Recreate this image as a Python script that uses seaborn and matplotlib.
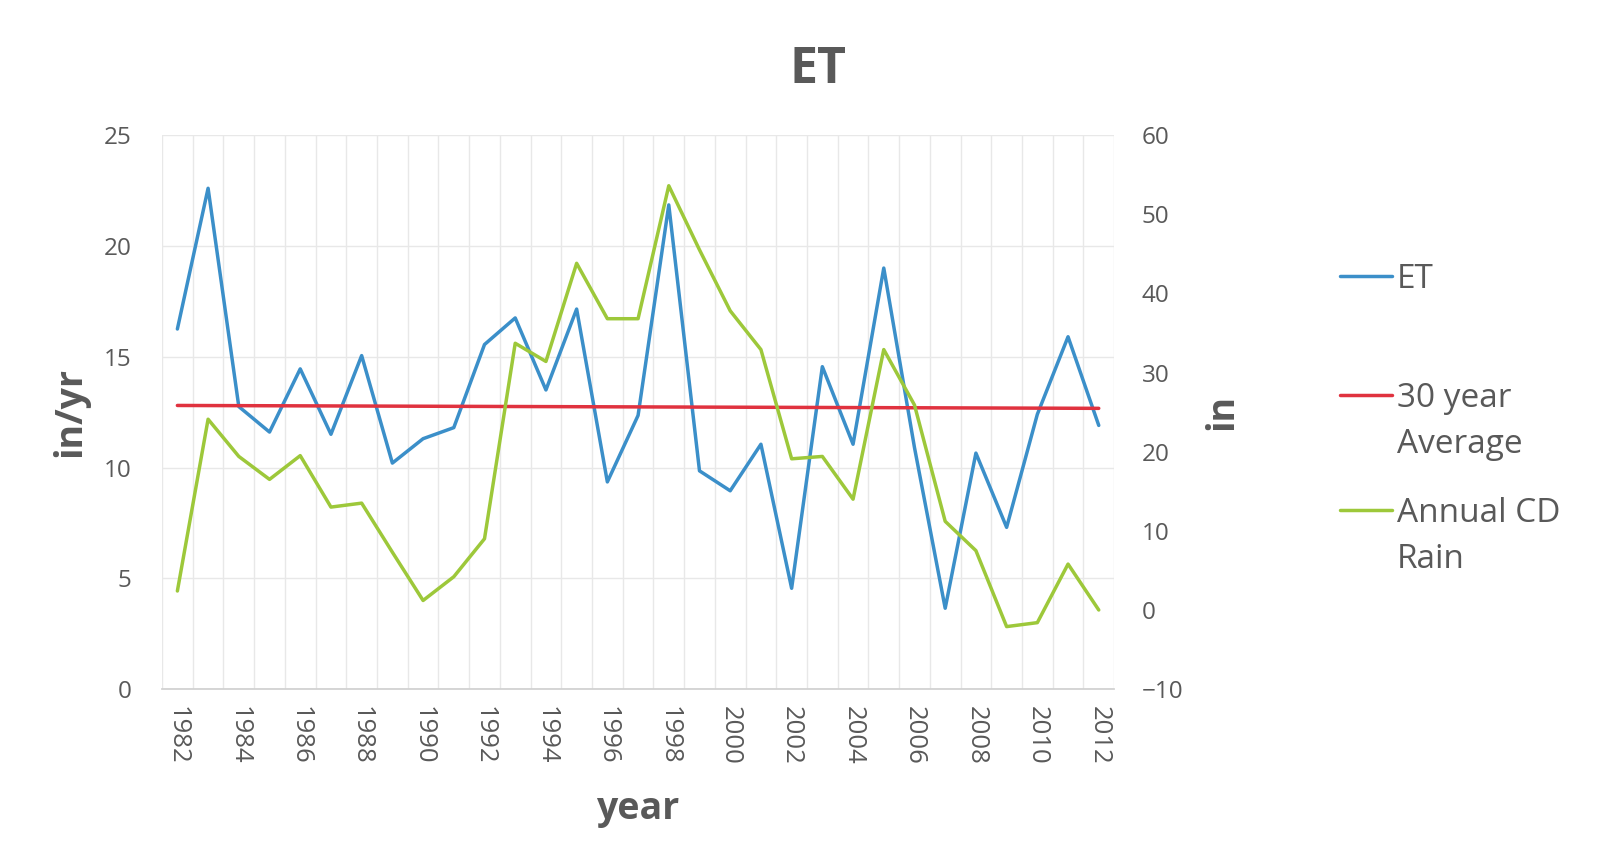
import matplotlib
matplotlib.use("Agg")
import matplotlib.pyplot as plt
import seaborn as sns
import numpy as np
import pandas as pd
from matplotlib.lines import Line2D

years = list(range(1982, 2013))
et = [16.25, 22.6, 12.75, 11.6, 14.45, 11.5, 15.05, 10.2, 11.3, 11.8,
      15.55, 16.75, 13.5, 17.15, 9.35, 12.35, 21.85, 9.85, 8.95, 11.05,
      4.55, 14.55, 11.05, 19.0, 10.9, 3.65, 10.65, 7.3, 12.4, 15.9, 11.9]
rain = [2.4, 24.1, 19.4, 16.5, 19.5, 13.0, 13.5, 7.3, 1.2, 4.2,
        9.0, 33.7, 31.4, 43.8, 36.8, 36.8, 53.6, 45.5, 37.8, 32.9,
        19.1, 19.4, 14.0, 32.9, 25.9, 11.2, 7.5, -2.1, -1.6, 5.8, 0.0]
avg_years = [1982, 2012]
avg_values = [12.80, 12.67]

left_ticks = [0, 5, 10, 15, 20, 25]
right_ticks = [-10, 0, 10, 20, 30, 40, 50, 60]
xtick_years = list(range(1982, 2013, 2))
legend_labels = [["ET"], ["30 year", "Average"], ["Annual CD", "Rain"]]

sns.set_theme(style="white")
plt.rcParams['font.family'] = ['Open Sans', 'DejaVu Sans']

c_et = "#3b8fc9"
c_avg = "#e0323f"
c_rain = "#9dc83a"
txt = "#595959"
lw = 2.5

fig = plt.figure(figsize=(16.17, 8.55), dpi=100)
ax = fig.add_axes([0.1002, 0.194, 0.5888, 0.648])
ax2 = ax.twinx()

df = pd.DataFrame({"year": years, "et": et, "rain": rain})
dfa = pd.DataFrame({"year": avg_years, "avg": avg_values})

sns.lineplot(data=df, x="year", y="et", ax=ax, color=c_et, linewidth=lw, zorder=3)
sns.lineplot(data=dfa, x="year", y="avg", ax=ax, color=c_avg, linewidth=lw, zorder=3)
sns.lineplot(data=df, x="year", y="rain", ax=ax2, color=c_rain, linewidth=lw, zorder=3)

ax.set_xlim(1981.5, 2012.5)
ax.set_ylim(0, 25)
ax2.set_ylim(-10, 60)
ax.set_yticks(left_ticks)
ax2.set_yticks(right_ticks)
ax.set_xticks(xtick_years)
ax.set_xticklabels([str(y) for y in xtick_years], rotation=270, fontsize=18.5, color=txt)
ax.set_xticks(np.arange(1981.5, 2013, 1.0), minor=True)
ax.tick_params(axis="x", which="both", length=0, pad=12)
ax.tick_params(axis="y", length=0, labelsize=17.5, labelcolor=txt, pad=22)
ax2.tick_params(axis="y", length=0, labelsize=17.5, labelcolor=txt, pad=20)

ax.grid(True, axis="y", which="major", color="#e8e8e8", linewidth=1)
ax.grid(True, axis="x", which="minor", color="#e8e8e8", linewidth=1)
ax.grid(False, axis="x", which="major")
ax2.grid(False)
for a in (ax, ax2):
    for s in a.spines.values():
        s.set_visible(False)
ax.spines["bottom"].set_visible(True)
ax.spines["bottom"].set_color("#d0d0d0")

ax.set_xlabel("year", fontsize=27, fontweight="bold", color=txt, labelpad=18)
ax.set_ylabel("in/yr", fontsize=27, fontweight="bold", color=txt, labelpad=10)
ax2.set_ylabel("in", fontsize=27, fontweight="bold", color=txt, labelpad=14)
fig.suptitle("ET", x=0.506, y=0.947, fontsize=36, fontweight="bold", color=txt)

# legend entries (handle aligned with first text line, as in the reference)
colors = [c_et, c_avg, c_rain]
entry_y = [0.677, 0.538, 0.404]
for col, lines, yy in zip(colors, legend_labels, entry_y):
    fig.add_artist(Line2D([0.829, 0.861], [yy, yy], color=col, linewidth=lw,
                          transform=fig.transFigure))
    for i, ln in enumerate(lines):
        fig.text(0.864, yy - 0.014 - i * 0.054, ln, fontsize=24, color=txt,
                 ha="left", va="baseline", transform=fig.transFigure)

fig.savefig("out.png", dpi=100)
